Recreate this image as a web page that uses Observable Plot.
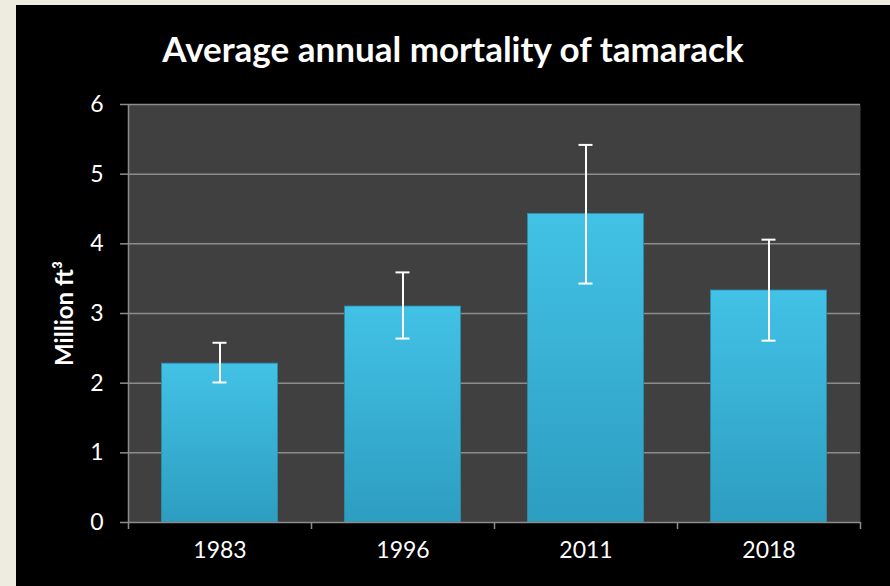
<!DOCTYPE html>
<html>
<head>
<meta charset="utf-8">
<script src="https://cdn.jsdelivr.net/npm/d3@7"></script>
<script src="https://cdn.jsdelivr.net/npm/@observablehq/plot@0.6"></script>
<style>
  html, body { margin: 0; padding: 0; background: #EEEBE1; width: 890px; height: 586px; overflow: hidden; }
  #panel { position: absolute; left: 16px; top: 5px; width: 874px; height: 581px; background: #000; overflow: hidden; }
  #title { position: absolute; left: 0; top: 23px; width: 874px; text-align: center; color: #fff;
           font-family: Lato, "Open Sans", sans-serif; font-weight: bold; font-size: 35px; line-height: 40px; white-space: nowrap; }
  #chart { position: absolute; left: 0; top: 60px; }
</style>
</head>
<body>
<div id="panel">
  <div id="title">Average annual mortality of tamarack</div>
  <div id="chart"></div>
</div>
<script>
const years = ["1983", "1996", "2011", "2018"];
const values = [2.28, 3.10, 4.43, 3.33];
const lower = [2.01, 2.64, 3.43, 2.61];
const upper = [2.58, 3.59, 5.42, 4.06];
const yTicks = [0, 1, 2, 3, 4, 5, 6];
const yLabel = "Million ft³";

const data = years.map((y, i) => ({year: y, value: values[i], lo: lower[i], hi: upper[i]}));

const W = 874, H = 521, ML = 112, MR = 30, MT = 39, MB = 64;
const step = (W - ML - MR) / years.length;
const font = "Lato, 'Open Sans', sans-serif";

const chart = Plot.plot({
  width: W, height: H,
  marginLeft: ML, marginRight: MR, marginTop: MT, marginBottom: MB,
  style: {background: "transparent", fontFamily: font, color: "#fff"},
  x: {domain: years, padding: 0},
  y: {domain: [0, 6]},
  marks: [
    Plot.frame({fill: "#404040", stroke: null}),
    Plot.ruleY(yTicks.filter(d => d > 0), {stroke: "#8c8c8c", strokeWidth: 1.5}),
    Plot.barY(data, {x: "year", y: "value", fill: "url(#barGrad)", insetLeft: 33.5, insetRight: 33.5, stroke: "#2a8fb0", strokeWidth: 0.8}),
    Plot.ruleX(data, {x: "year", y1: "lo", y2: "hi", stroke: "#fff", strokeWidth: 2}),
    Plot.tickY(data, {x: "year", y: "lo", stroke: "#fff", strokeWidth: 2, insetLeft: 84.5, insetRight: 84.5}),
    Plot.tickY(data, {x: "year", y: "hi", stroke: "#fff", strokeWidth: 2, insetLeft: 84.5, insetRight: 84.5}),
    Plot.ruleY([0], {stroke: "#8c8c8c", strokeWidth: 1.5}),
    Plot.ruleX([years[0]], {x: d => d, y1: 0, y2: 6, dx: -step / 2, stroke: "#8c8c8c", strokeWidth: 1.5}),
    Plot.ruleX(years, {x: d => d, y1: 0, y2: 0, dx: -step / 2, insetBottom: -7, stroke: "#8c8c8c", strokeWidth: 1.5}),
    Plot.ruleX([years[years.length - 1]], {x: d => d, y1: 0, y2: 0, dx: step / 2, insetBottom: -7, stroke: "#8c8c8c", strokeWidth: 1.5}),
    Plot.axisY({ticks: yTicks, tickSize: 8, tickPadding: 17, stroke: "#8c8c8c", strokeWidth: 1.5, fill: "#fff", fontSize: 23, label: null, tickFormat: d => String(d)}),
    Plot.axisX({tickSize: 0, tickPadding: 19, fill: "#fff", fontSize: 23, label: null}),
    Plot.text([yLabel], {text: d => d, frameAnchor: "left", textAnchor: "middle", dx: -63, rotate: -90, fill: "#fff", fontSize: 24, fontWeight: "bold", fontFamily: font})
  ]
});

const defs = document.createElementNS("http://www.w3.org/2000/svg", "defs");
defs.innerHTML = `<linearGradient id="barGrad" x1="0" y1="0" x2="0" y2="1">
  <stop offset="0%" stop-color="#42c2e6"/>
  <stop offset="100%" stop-color="#2d9dc0"/>
</linearGradient>`;
chart.insertBefore(defs, chart.firstChild);
document.getElementById("chart").appendChild(chart);
</script>
</body>
</html>
